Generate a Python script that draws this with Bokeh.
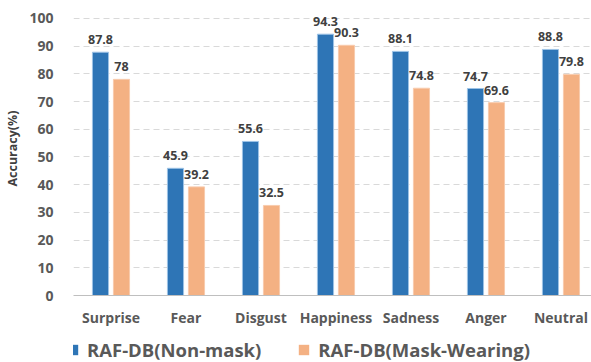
from bokeh.plotting import figure
from bokeh.models import ColumnDataSource, Legend, LegendItem, FixedTicker, Range1d
from bokeh.layouts import column
from bokeh.embed import file_html
from bokeh.resources import INLINE
from bokeh.core.properties import value

categories = ["Surprise", "Fear", "Disgust", "Happiness", "Sadness", "Anger", "Neutral"]
non_mask = [87.8, 45.9, 55.6, 94.3, 88.1, 74.7, 88.8]
mask_wearing = [78, 39.2, 32.5, 90.3, 74.8, 69.6, 79.8]
series_names = ["RAF-DB(Non-mask)", "RAF-DB(Mask-Wearing)"]
y_ticks = [0, 10, 20, 30, 40, 50, 60, 70, 80, 90, 100]

FONT = "Open Sans"
BLUE = "#2E75B6"
ORANGE = "#F4B183"
GRAY = "#595959"

centers = [i + 0.5 for i in range(len(categories))]
off = 0.14
src1 = ColumnDataSource(dict(x=[c - off for c in centers], top=non_mask,
                             lab=[f"{v:g}" for v in non_mask]))
src2 = ColumnDataSource(dict(x=[c + off for c in centers], top=mask_wearing,
                             lab=[f"{v:g}" for v in mask_wearing]))

p = figure(frame_width=518, frame_height=294, output_backend="svg", toolbar_location=None,
           x_range=Range1d(0, 6.907), y_range=Range1d(0, 106.1),
           min_border_left=73, min_border_right=0, min_border_top=1, min_border_bottom=40)
p.outline_line_color = None
p.background_fill_color = "white"

r1 = p.vbar(x="x", top="top", width=0.215, bottom=0, source=src1,
            fill_color=BLUE, line_color="#9DC3E6", line_width=1)
r2 = p.vbar(x="x", top="top", width=0.215, bottom=0, source=src2,
            fill_color=ORANGE, line_color="#F8CBAD", line_width=1)

for s in (src1, src2):
    p.text(x="x", y="top", text="lab", source=s, text_align="center",
           text_baseline="bottom", y_offset=-8, text_font=value(FONT),
           text_font_style="bold", text_font_size="12.5px", text_color="#404040")

# axes
p.xaxis.ticker = FixedTicker(ticks=centers)
p.xaxis.major_label_overrides = {c: n for c, n in zip(centers, categories)}
p.xaxis.major_label_text_font = FONT
p.xaxis.major_label_text_font_style = "bold"
p.xaxis.major_label_text_font_size = "14px"
p.xaxis.major_label_text_color = GRAY
p.xaxis.major_tick_line_color = None
p.xaxis.minor_tick_line_color = None
p.xaxis.axis_line_color = "#BFBFBF"
p.xaxis.major_label_standoff = 6

p.yaxis.ticker = FixedTicker(ticks=y_ticks)
p.yaxis.major_label_text_font = FONT
p.yaxis.major_label_text_font_style = "bold"
p.yaxis.major_label_text_font_size = "14px"
p.yaxis.major_label_text_color = GRAY
p.yaxis.major_tick_line_color = None
p.yaxis.minor_tick_line_color = None
p.yaxis.axis_line_color = None
p.yaxis.major_label_standoff = 14
p.yaxis.axis_label = "Accuracy(%)"
p.yaxis.axis_label_text_font = FONT
p.yaxis.axis_label_text_font_style = "bold"
p.yaxis.axis_label_text_font_size = "12.5px"
p.yaxis.axis_label_text_color = "#404040"
p.yaxis.axis_label_standoff = 5

p.xgrid.grid_line_color = None
p.ygrid.grid_line_color = "#D9D9D9"
p.ygrid.grid_line_dash = "6 4"

# legend in its own strip below the chart
p2 = figure(width=591, height=27, output_backend="svg", toolbar_location=None,
            x_range=Range1d(0, 1), y_range=Range1d(0, 1),
            x_axis_location=None, y_axis_location=None,
            min_border_left=0, min_border_right=0, min_border_top=0, min_border_bottom=0)
p2.grid.visible = False
p2.outline_line_color = None
l1 = p2.vbar(x=[5], top=[1], width=0.1, fill_color=BLUE, line_color=None)
l2 = p2.vbar(x=[5], top=[1], width=0.1, fill_color=ORANGE, line_color=None)

legend = Legend(items=[LegendItem(label=series_names[0], renderers=[l1]),
                       LegendItem(label=series_names[1], renderers=[l2])],
                orientation="horizontal", location=(-7, 0),
                label_text_font=FONT, label_text_font_style="bold",
                label_text_font_size="18.5px", label_text_color=GRAY,
                glyph_width=13, glyph_height=13, label_standoff=8, spacing=36,
                border_line_color=None, background_fill_alpha=0,
                padding=2, margin=0)
p2.add_layout(legend, "center")

open("out.html", "w").write(file_html(column(p, p2, spacing=0), INLINE))
